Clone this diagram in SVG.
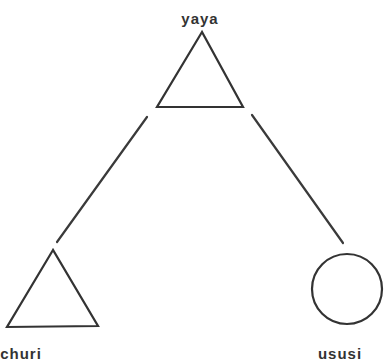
<svg xmlns="http://www.w3.org/2000/svg" width="385" height="361" viewBox="0 0 385 361">
<style>
.shape{fill:none;stroke:#333;stroke-width:2.2;stroke-linejoin:miter}
.edge{stroke:#3a3a3a;stroke-width:2.2;fill:none;stroke-linecap:round}
.lbl{font-family:"Liberation Sans",Arial,sans-serif;font-weight:bold;font-size:15px;letter-spacing:1px;fill:#333;text-anchor:middle}
</style>
<rect width="385" height="361" fill="#fff"/>
<g id="connectors">
<line class="edge" x1="147" y1="117" x2="57" y2="242"/>
<line class="edge" x1="252" y1="115" x2="343" y2="243"/>
</g>
<g id="yaya">
<polygon class="shape" points="202,32 157,107 243,107"/>
<text class="lbl" x="200" y="24">yaya</text>
</g>
<g id="churi">
<polygon class="shape" points="53,250 7,327 98,326"/>
<text class="lbl" x="21" y="359">churi</text>
</g>
<g id="ususi">
<circle class="shape" cx="347" cy="289" r="35"/>
<text class="lbl" x="340" y="359">ususi</text>
</g>
</svg>
